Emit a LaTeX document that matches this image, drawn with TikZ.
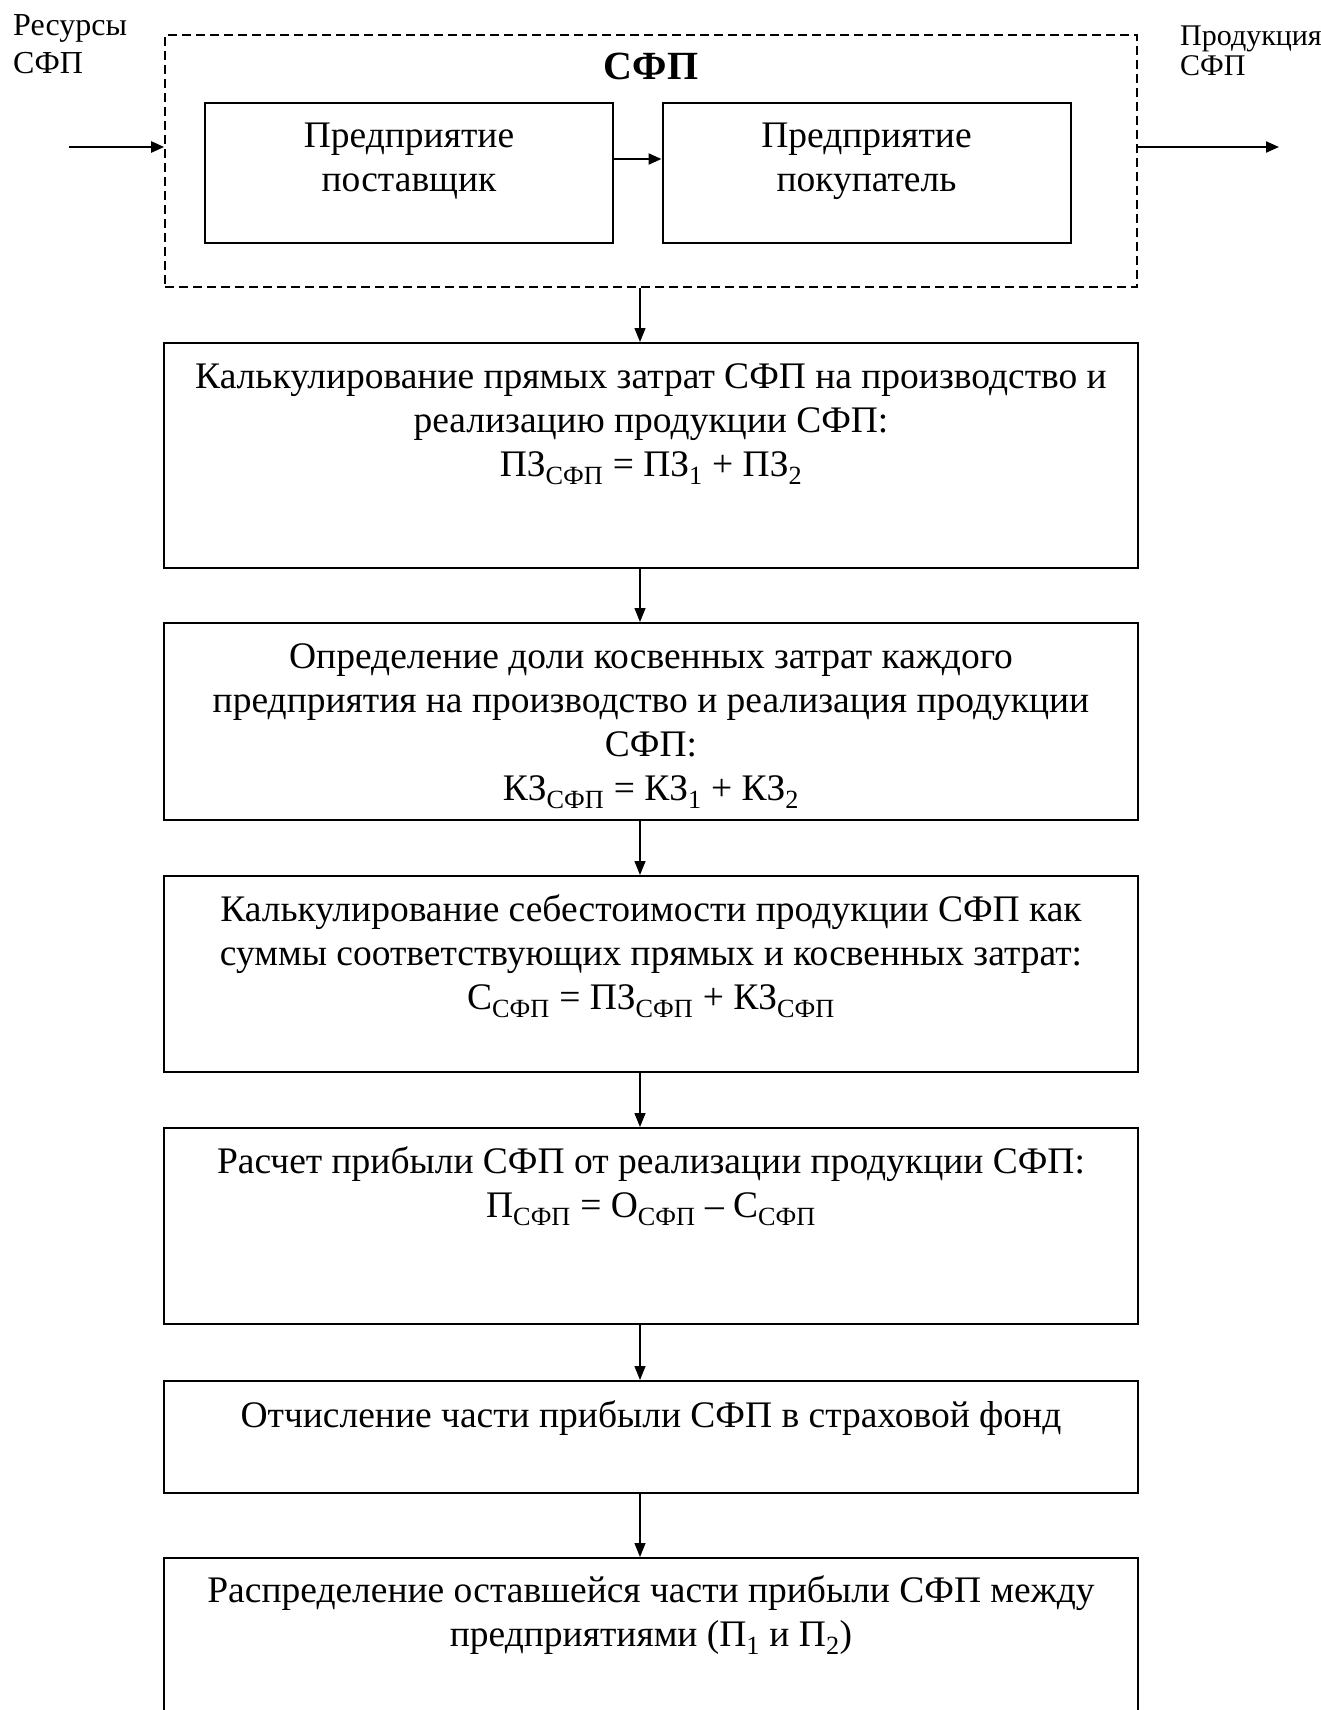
\documentclass[tikz,border=0pt]{standalone}
\usepackage{fontspec}
\setmainfont{Liberation Serif}
\usetikzlibrary{arrows.meta,calc}
\begin{document}
\begin{tikzpicture}[x=1pt,y=-1pt,
  box/.style={draw,line width=2pt,inner sep=0pt,rectangle,minimum width=974pt},
  smallbox/.style={draw,line width=2pt,inner sep=0pt,rectangle,minimum width=408pt,minimum height=140pt},
  frame/.style={draw,line width=1.6pt,dash pattern=on 9pt off 5pt,inner sep=0pt,rectangle},
  txt/.style={align=center,font=\fontsize{37.5}{44}\selectfont,inner sep=0pt,anchor=base},
  lbl/.style={align=left,inner sep=0pt,anchor=base west},
  arr/.style={line width=1.4pt,-{Triangle[length=14pt,width=11pt]}},
  thickarr/.style={line width=2.2pt,-{Triangle[length=13pt,width=11pt]}},
]
\useasboundingbox (0,0) rectangle (1320,1710);

% the joint production system and its two enterprises
\node[frame,minimum width=972pt,minimum height=252pt] (sfp) at (651,161) {};
\node[inner sep=0pt,anchor=base,font=\fontsize{40}{44}\selectfont\bfseries] (sfptitle) at (651,80) {СФП};
\node[smallbox] (sup) at (409,173) {};
\node[smallbox] (buy) at (866.5,173) {};
% the base anchor of a multi-line node sits on its last line
\node[txt] (suptext) at ($(sup.north)+(0,45+44)$) {Предприятие\\поставщик};
\node[txt] (buytext) at ($(buy.north)+(0,45+44)$) {Предприятие\\покупатель};

% inputs and outputs
\node[lbl,font=\fontsize{32}{38}\selectfont] (res) at (13,74) {Ресурсы\\СФП};
\node[lbl,font=\fontsize{30}{30}\selectfont] (prod) at (1180,75) {Продукция\\СФП};
\coordinate (resin) at (69,147);
\coordinate (prodout) at (1279,147);
\draw[thickarr] (resin) -- (resin -| sfp.west);
\draw[thickarr] (prodout -| sfp.east) -- (prodout);
\draw[thickarr] ([yshift=14pt]sup.east) -- ([yshift=14pt]buy.west);

% calculation steps
\node[box,minimum height=225pt] (b1) at (651,455.5) {};
\node[box,minimum height=197pt] (b2) at (651,721.5) {};
\node[box,minimum height=196pt] (b3) at (651,974) {};
\node[box,minimum height=196pt] (b4) at (651,1226) {};
\node[box,minimum height=112pt] (b5) at (651,1437) {};
\node[box,minimum height=176pt] (b6) at (651,1646) {};

\node[txt] (t1) at ($(b1.north)+(0,46+88)$) {Калькулирование прямых затрат СФП на производство и\\реализацию продукции СФП:\\ПЗ\textsubscript{СФП} = ПЗ\textsubscript{1} + ПЗ\textsubscript{2}};
\node[txt] (t2) at ($(b2.north)+(0,46+132)$) {Определение доли косвенных затрат каждого\\предприятия на производство и реализация продукции\\СФП:\\КЗ\textsubscript{СФП} = КЗ\textsubscript{1} + КЗ\textsubscript{2}};
\node[txt] (t3) at ($(b3.north)+(0,46+88)$) {Калькулирование себестоимости продукции СФП как\\суммы соответствующих прямых и косвенных затрат:\\С\textsubscript{СФП} = ПЗ\textsubscript{СФП} + КЗ\textsubscript{СФП}};
\node[txt] (t4) at ($(b4.north)+(0,46+44)$) {Расчет прибыли СФП от реализации продукции СФП:\\П\textsubscript{СФП} = О\textsubscript{СФП} – С\textsubscript{СФП}};
\node[txt] (t5) at ($(b5.north)+(0,47)$) {Отчисление части прибыли СФП в страховой фонд};
\node[txt] (t6) at ($(b6.north)+(0,47+42)$) {Распределение оставшейся части прибыли СФП между\\предприятиями (П\textsubscript{1} и П\textsubscript{2})};

% flow between the steps
\coordinate (ax) at (640,0);
\draw[arr] (sfp.south -| ax) -- (b1.north -| ax);
\draw[arr] (b1.south -| ax) -- (b2.north -| ax);
\draw[arr] (b2.south -| ax) -- (b3.north -| ax);
\draw[arr] (b3.south -| ax) -- (b4.north -| ax);
\draw[arr] (b4.south -| ax) -- (b5.north -| ax);
\draw[arr] (b5.south -| ax) -- (b6.north -| ax);
\end{tikzpicture}
\end{document}
